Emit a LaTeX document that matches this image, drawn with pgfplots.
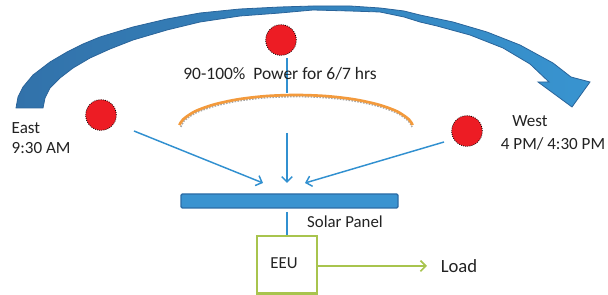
\documentclass[border=0pt]{standalone}
\usepackage{pgfplots}
\pgfplotsset{compat=1.18}
\usepackage{fontspec}
\setmainfont{Carlito}
\usetikzlibrary{arrows.meta}
\definecolor{arrowdark}{HTML}{3272AA}
\definecolor{arrowlight}{HTML}{3894D0}
\definecolor{arrowedge}{HTML}{2A649A}
\definecolor{thinblue}{HTML}{3190D0}
\definecolor{sunred}{HTML}{ED1C24}
\definecolor{orng}{HTML}{F39A3C}
\definecolor{eeugreen}{HTML}{A8C44E}
\definecolor{panelblue}{HTML}{3A93D0}
\definecolor{paneledge}{HTML}{2C6CA5}
\definecolor{txt}{HTML}{222222}
\begin{document}
\begin{tikzpicture}
\begin{axis}[
 width=456pt, height=221.25pt, scale only axis,
 xmin=0, xmax=608, ymin=0, ymax=295, y dir=reverse,
 axis lines=none, clip=false, ticks=none,
 every node/.append style={inner sep=0pt, outer sep=0pt},
]
\coordinate (SW) at (axis cs:0,295);
\coordinate (NE) at (axis cs:608,0);
% big curved arrow (sun path)
\addplot[draw=arrowedge, line width=0.6pt, left color=arrowdark, right color=arrowlight] coordinates {
 (16,108) (18,97) (23,87) (33,75) (50,62) (67,52) (83,44) (100,37) (133,27) (167,19) (200,13) (240,9) (280,7) (313,6) (350,6) (380,8) (404,11)
 (420,15) (453,22) (487,32) (520,45) (553,63) (571,77)
 (590,82) (572,107) (538,82) (549,82)
 (530,64) (503,48) (470,35) (437,26) (420,22) (404,17) (380,12) (350,11) (313,10)
 (280,13) (240,16) (200,22) (167,30) (133,40) (110,49) (90,58) (73,68) (60,78) (50,88) (45,98) (43,108)
} -- cycle;
% orange arc with gray shadow
\addplot[gray!70, densely dotted, line width=1.2pt, smooth] coordinates {
 (181,127) (184,121) (195.5,113) (214,106.3) (238,101) (266,97.7) (296,96.6) (326,97.7) (354,101) (378.5,106.3) (397,113) (408.5,121) (412,127)
};
\addplot[orng, line width=2pt, smooth] coordinates {
 (179.4,125.1) (183,119.5) (194.7,111.5) (213.3,104.7) (237.5,99.4) (265.7,96.1) (296,95) (326.3,96.1) (354.5,99.4) (378.7,104.7) (397.3,111.5) (409,119.5) (412.6,125.1)
};
% vertical line from top sun
\addplot[thinblue, line width=1.1pt] coordinates {(287,58) (287,93)};
% rays
\addplot[thinblue, line width=1.1pt, -{Straight Barb[length=4pt,width=8pt]}] coordinates {(134,131) (263,183)};
\addplot[thinblue, line width=1.1pt, -{Straight Barb[length=4pt,width=8pt]}] coordinates {(287,133) (287,183)};
\addplot[thinblue, line width=1.1pt, -{Straight Barb[length=4pt,width=8pt]}] coordinates {(444,142) (305,183)};
% suns
\addplot[only marks, mark=*, mark size=11.5pt, mark options={fill=sunred, draw=black, densely dotted, line width=0.6pt}] coordinates {(281,40) (101,115) (467,131)};
% solar panel
\addplot[fill=panelblue, draw=paneledge, line width=1pt, rounded corners=1pt] coordinates {(181,194) (398,194) (398,208) (181,208)} -- cycle;
\addplot[thinblue, line width=1.1pt] coordinates {(287,212) (287,236)};
% EEU box
\addplot[draw=eeugreen, line width=2.2pt] coordinates {(257,236) (317,236) (317,293.5) (257,293.5)} -- cycle;
\addplot[eeugreen, line width=1.3pt, -{Straight Barb[length=4pt,width=8pt]}] coordinates {(318,266) (427,266)};
% texts
\node[font=\fontsize{13.1}{15}\selectfont, text=txt] at (axis cs:280,74) {90-100\%\ \ Power for 6/7 hrs};
\node[font=\fontsize{12.8}{14}\selectfont, text=txt, anchor=west] at (axis cs:7,128) {East};
\node[font=\fontsize{12.8}{14}\selectfont, text=txt, anchor=west] at (axis cs:7,148) {9:30 AM};
\node[font=\fontsize{12.8}{14}\selectfont, text=txt] at (axis cs:530,121) {West};
\node[font=\fontsize{12.8}{14}\selectfont, text=txt] at (axis cs:553,144) {4 PM/ 4:30 PM};
\node[font=\fontsize{12.6}{14}\selectfont, text=txt] at (axis cs:345,222) {Solar Panel};
\node[font=\fontsize{12.6}{14}\selectfont, text=txt] at (axis cs:284,263) {EEU};
\node[font=\fontsize{14}{16}\selectfont, text=txt] at (axis cs:459,266) {Load};
\end{axis}
\pgfresetboundingbox
\path (SW) rectangle (NE);
\end{tikzpicture}
\end{document}
